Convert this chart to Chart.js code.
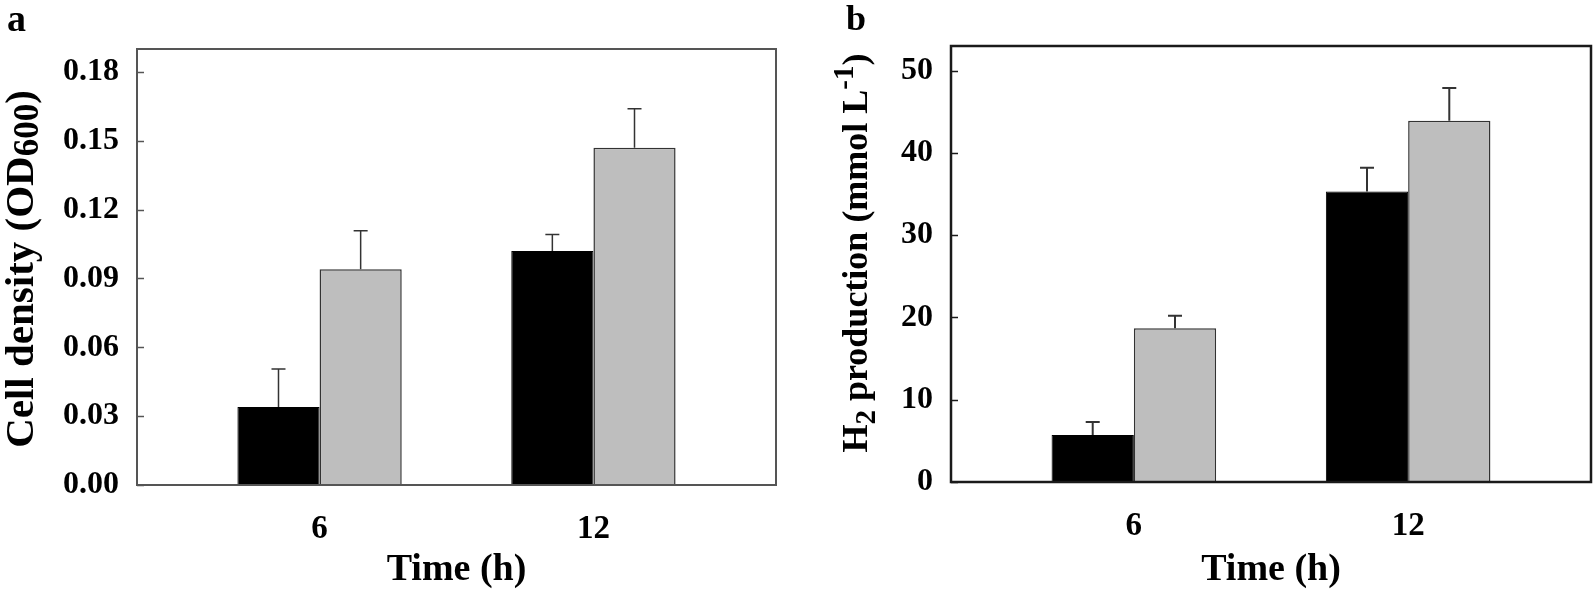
<!DOCTYPE html>
<html>
<head>
<meta charset="utf-8">
<script src="https://cdn.jsdelivr.net/npm/chart.js@4.4.0/dist/chart.umd.min.js"></script>
<style>
body { margin: 0; background: #fff; }
#wrap { position: relative; width: 1595px; height: 595px; }
#wrap canvas { position: absolute; top: 0; }
</style>
</head>
<body>
<div id="wrap">
  <canvas id="chartA" width="797" height="595" style="left:0px"></canvas>
  <canvas id="chartB" width="798" height="595" style="left:797px"></canvas>
</div>
<script>
// data
var times = [6, 12];

var odControl = [0.034, 0.102];
var odControlErr = [0.0166, 0.0072];
var odTreated = [0.094, 0.147];
var odTreatedErr = [0.0168, 0.017];
var odTicks = [0, 0.03, 0.06, 0.09, 0.12, 0.15, 0.18];

var h2Control = [5.7, 35.3];
var h2ControlErr = [1.6, 2.9];
var h2Treated = [18.7, 43.9];
var h2TreatedErr = [1.5, 4.0];
var h2Ticks = [0, 10, 20, 30, 40, 50];

var FONT = "'Liberation Serif', 'Times New Roman', serif";

function points(vals) {
  return vals.map(function (v, i) { return { x: times[i], y: v }; });
}

//
// plugins
//
var frame = {
  id: 'frame',
  afterDraw: function (chart, args, opts) {
    var a = chart.chartArea, ctx = chart.ctx, y = chart.scales.y;
    ctx.save();
    // inner ticks on the left axis
    ctx.strokeStyle = opts.color;
    ctx.lineWidth = 1.5;
    opts.ticks.forEach(function (v) {
      var py = Math.round(y.getPixelForValue(v)) + 0.5;
      ctx.beginPath();
      ctx.moveTo(a.left, py);
      ctx.lineTo(a.left + 7, py);
      ctx.stroke();
    });
    ctx.lineWidth = opts.width;
    ctx.strokeRect(a.left, a.top, a.right - a.left, a.bottom - a.top);
    ctx.restore();
  }
};

var errorBars = {
  id: 'errorBars',
  afterDatasetsDraw: function (chart, args, opts) {
    var ctx = chart.ctx, y = chart.scales.y;
    ctx.save();
    ctx.strokeStyle = opts.color;
    ctx.lineWidth = opts.width;
    chart.data.datasets.forEach(function (ds, i) {
      chart.getDatasetMeta(i).data.forEach(function (bar, j) {
        var v = ds.data[j].y;
        var top = y.getPixelForValue(v + ds.errors[j]);
        var base = y.getPixelForValue(v);
        ctx.beginPath();
        ctx.moveTo(bar.x, base);
        ctx.lineTo(bar.x, top);
        ctx.moveTo(bar.x - opts.cap, top);
        ctx.lineTo(bar.x + opts.cap, top);
        ctx.stroke();
      });
    });
    ctx.restore();
  }
};

// vertical axis title with sub/superscripts, plus panel letter
var labels = {
  id: 'labels',
  afterDraw: function (chart, args, opts) {
    var ctx = chart.ctx, a = chart.chartArea;
    ctx.save();
    ctx.fillStyle = '#000';
    ctx.textBaseline = 'alphabetic';

    ctx.font = 'bold ' + opts.letterSize + 'px ' + FONT;
    ctx.textAlign = 'left';
    ctx.fillText(opts.letter, opts.letterX, opts.letterY);

    var total = 0;
    opts.title.forEach(function (p) {
      ctx.font = 'bold ' + Math.round(opts.size * (p.scale || 1)) + 'px ' + FONT;
      total += ctx.measureText(p.t).width;
    });
    ctx.translate(opts.x, (a.top + a.bottom) / 2 + (opts.shift || 0));
    ctx.rotate(-Math.PI / 2);
    var cx = -total / 2;
    opts.title.forEach(function (p) {
      ctx.font = 'bold ' + Math.round(opts.size * (p.scale || 1)) + 'px ' + FONT;
      ctx.fillText(p.t, cx, p.dy || 0);
      cx += ctx.measureText(p.t).width;
    });
    ctx.restore();
  }
};

function makeChart(id, cfg) {
  return new Chart(document.getElementById(id), {
    type: 'bar',
    data: {
      datasets: [{
        data: points(cfg.control),
        errors: cfg.controlErr,
        backgroundColor: '#000',
        borderColor: '#000',
        borderWidth: 1
      }, {
        data: points(cfg.treated),
        errors: cfg.treatedErr,
        backgroundColor: '#bebebe',
        borderColor: '#333',
        borderWidth: 1.5
      }]
    },
    options: {
      responsive: false,
      animation: false,
      devicePixelRatio: 1,
      categoryPercentage: 0.6,
      barPercentage: 1.0,
      layout: { padding: cfg.padding },
      plugins: {
        legend: { display: false },
        tooltip: { enabled: false },
        frame: { color: cfg.frameColor, width: cfg.frameWidth, ticks: cfg.ticks },
        errorBars: { color: '#333', width: cfg.errWidth, cap: 7 },
        labels: cfg.labels
      },
      scales: {
        x: {
          type: 'linear',
          min: 2,
          max: 16,
          offset: false,
          grid: { display: false, drawTicks: false },
          border: { display: false },
          afterBuildTicks: function (s) {
            s.ticks = times.map(function (t) { return { value: t }; });
          },
          afterFit: function (s) { s.height = cfg.xHeight; },
          ticks: {
            color: '#000',
            padding: 25,
            font: { family: FONT, size: 33, weight: 'bold' },
            callback: function (v) { return String(v); }
          },
          title: {
            display: true,
            text: 'Time (h)',
            color: '#000',
            padding: { top: 0, bottom: 2 },
            font: { family: FONT, size: 38, weight: 'bold' }
          }
        },
        y: {
          min: 0,
          max: cfg.yMax,
          grid: { display: false, drawTicks: false },
          border: { display: false },
          afterBuildTicks: function (s) {
            s.ticks = cfg.ticks.map(function (t) { return { value: t }; });
          },
          afterFit: function (s) { s.width = cfg.yWidth; },
          ticks: {
            color: '#000',
            padding: 18,
            font: { family: FONT, size: 32, weight: 'bold' },
            callback: cfg.fmt
          }
        }
      }
    },
    plugins: [frame, errorBars, labels]
  });
}

makeChart('chartA', {
  control: odControl, controlErr: odControlErr,
  treated: odTreated, treatedErr: odTreatedErr,
  ticks: odTicks, yMax: 0.19,
  fmt: function (v) { return v.toFixed(2); },
  padding: { top: 49, right: 21, left: 0, bottom: 0 },
  yWidth: 137, xHeight: 110,
  frameColor: '#555', frameWidth: 2, errWidth: 1.5,
  labels: {
    letter: 'a', letterX: 7, letterY: 31, letterSize: 38,
    x: 33, size: 41, shift: 2,
    title: [
      { t: 'Cell density (OD' },
      { t: '600', scale: 0.85, dy: 5 },
      { t: ')' }
    ]
  }
});

makeChart('chartB', {
  control: h2Control, controlErr: h2ControlErr,
  treated: h2Treated, treatedErr: h2TreatedErr,
  ticks: h2Ticks, yMax: 53,
  fmt: function (v) { return String(v); },
  padding: { top: 46, right: 4, left: 0, bottom: 0 },
  yWidth: 154, xHeight: 113,
  frameColor: '#1a1a1a', frameWidth: 2.5, errWidth: 2,
  labels: {
    letter: 'b', letterX: 49, letterY: 30, letterSize: 36,
    x: 70, size: 36, shift: -11,
    title: [
      { t: 'H' },
      { t: '2', scale: 0.8, dy: 8 },
      { t: ' production (mmol L' },
      { t: '-1', scale: 0.8, dy: -14 },
      { t: ')' }
    ]
  }
});
</script>
</body>
</html>
